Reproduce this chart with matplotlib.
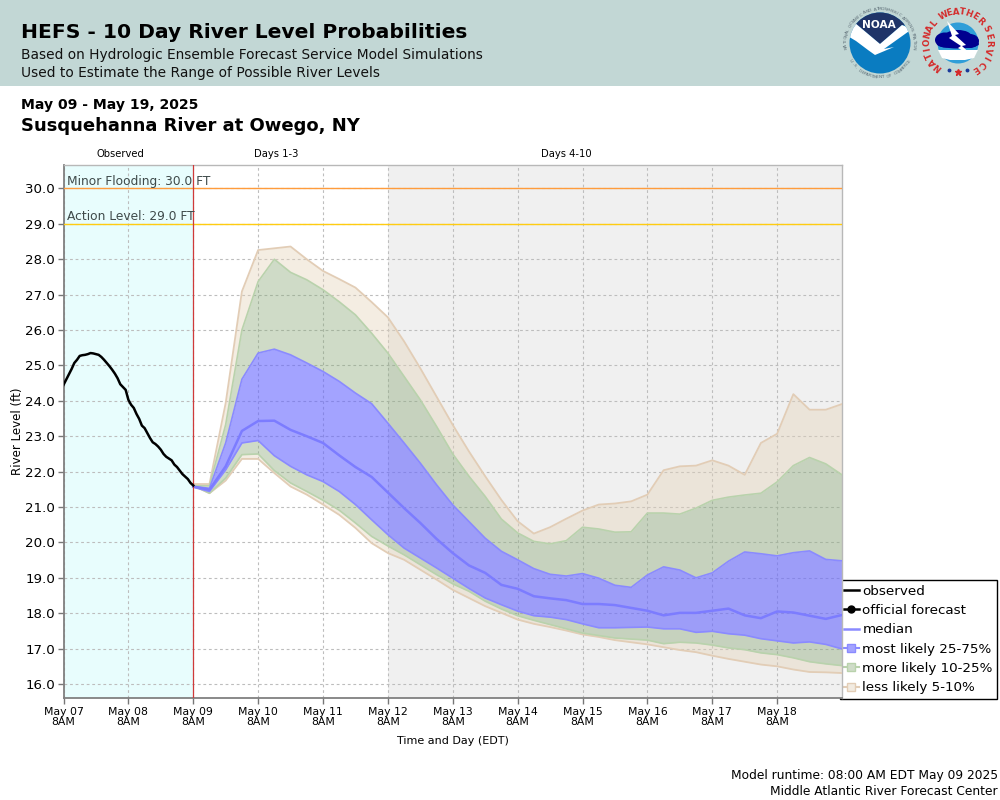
# HEFS 10 day river level probabilities, Susquehanna River at Owego, NY

import matplotlib
matplotlib.use('AGG') # plot without needing X-display setting
import matplotlib.pyplot as plt
from matplotlib.lines import Line2D
from matplotlib.patches import Circle, Ellipse, Polygon, Rectangle
import numpy as np
import pandas as pd

#%% data

obs_level = [24.45, 24.60, 24.75, 24.90, 25.07, 25.16, 25.27, 25.29, 25.30, 25.32, 25.35, 25.34, 25.32,
             25.30, 25.24, 25.16, 25.07, 24.98, 24.88, 24.77, 24.64, 24.47, 24.39, 24.31, 24.03, 23.89,
             23.80, 23.63, 23.49, 23.30, 23.23, 23.09, 22.95, 22.83, 22.78, 22.71, 22.62, 22.50, 22.42,
             22.37, 22.32, 22.20, 22.13, 22.03, 21.93, 21.86, 21.79, 21.68, 21.61]

p95 = [21.65, 21.65, 23.94, 27.09, 28.26, 28.31, 28.36, 28.00, 27.67, 27.44, 27.20, 26.79, 26.36, 25.68,
       24.92, 24.12, 23.32, 22.57, 21.87, 21.20, 20.60, 20.25, 20.43, 20.67, 20.90, 21.07, 21.10, 21.16,
       21.35, 22.04, 22.15, 22.17, 22.32, 22.17, 21.91, 22.81, 23.07, 24.19, 23.75, 23.75, 23.91]
p90 = [21.60, 21.60, 23.33, 26.00, 27.37, 28.00, 27.63, 27.42, 27.14, 26.80, 26.43, 25.91, 25.35, 24.69,
       24.03, 23.28, 22.50, 21.87, 21.30, 20.66, 20.27, 20.03, 19.96, 20.05, 20.43, 20.38, 20.29, 20.30,
       20.83, 20.83, 20.80, 20.97, 21.19, 21.28, 21.34, 21.39, 21.71, 22.17, 22.40, 22.22, 21.91]
p75 = [21.58, 21.53, 22.81, 24.61, 25.35, 25.46, 25.30, 25.07, 24.83, 24.55, 24.22, 23.92, 23.37, 22.81,
       22.24, 21.63, 21.06, 20.59, 20.12, 19.75, 19.51, 19.26, 19.10, 19.05, 19.12, 18.99, 18.79, 18.73,
       19.08, 19.31, 19.22, 19.00, 19.14, 19.47, 19.73, 19.68, 19.62, 19.71, 19.76, 19.52, 19.48]
p50 = [21.58, 21.49, 22.15, 23.15, 23.43, 23.44, 23.18, 23.00, 22.81, 22.46, 22.13, 21.85, 21.41, 20.97,
       20.55, 20.10, 19.70, 19.35, 19.14, 18.80, 18.69, 18.48, 18.42, 18.37, 18.26, 18.26, 18.23, 18.15,
       18.07, 17.94, 18.01, 18.01, 18.07, 18.13, 17.94, 17.86, 18.05, 18.02, 17.93, 17.84, 17.95]
p25 = [21.56, 21.44, 22.05, 22.81, 22.88, 22.45, 22.15, 21.91, 21.72, 21.44, 21.07, 20.64, 20.22, 19.84,
       19.56, 19.28, 18.99, 18.70, 18.43, 18.24, 18.06, 17.93, 17.89, 17.82, 17.70, 17.59, 17.59, 17.60,
       17.61, 17.56, 17.56, 17.46, 17.49, 17.42, 17.38, 17.28, 17.22, 17.16, 17.19, 17.12, 16.99]
p10 = [21.61, 21.39, 21.82, 22.48, 22.50, 22.03, 21.68, 21.44, 21.19, 20.91, 20.55, 20.17, 19.90, 19.65,
       19.37, 19.09, 18.83, 18.62, 18.34, 18.12, 17.93, 17.80, 17.68, 17.56, 17.44, 17.37, 17.30, 17.27,
       17.24, 17.14, 17.18, 17.16, 17.10, 17.02, 16.97, 16.88, 16.83, 16.74, 16.63, 16.57, 16.52]
p05 = [21.60, 21.39, 21.75, 22.36, 22.36, 21.96, 21.58, 21.35, 21.07, 20.78, 20.41, 19.98, 19.70, 19.51,
       19.23, 18.95, 18.66, 18.43, 18.20, 18.01, 17.82, 17.70, 17.61, 17.51, 17.40, 17.33, 17.24, 17.18,
       17.12, 17.04, 16.96, 16.90, 16.80, 16.71, 16.63, 16.55, 16.50, 16.41, 16.34, 16.33, 16.31]

minor_flood = 30.0
action_level = 29.0

tick_days = ['May 07', 'May 08', 'May 09', 'May 10', 'May 11', 'May 12',
             'May 13', 'May 14', 'May 15', 'May 16', 'May 17', 'May 18']
level_ticks = [16, 17, 18, 19, 20, 21, 22, 23, 24, 25, 26, 27, 28, 29, 30]

#%% time axes
t_start = pd.Timestamp('2025-05-07 08:00')
t_fcst = pd.Timestamp('2025-05-09 08:00')
t_day4 = pd.Timestamp('2025-05-12 08:00')
t_end = pd.Timestamp('2025-05-19 08:00')

time_obs = pd.date_range(t_start, t_fcst, freq='1h')
time_fc = pd.date_range(t_fcst, t_end, freq='6h')
time_tick = pd.date_range(t_start, periods=len(tick_days), freq='1D')

c_tan = '#e4d2b8'
c_green = '#87a775'
c_blue = '#6666ff'
e_tan = '#e2cdb6'
e_green = '#b9d2ac'
e_blue = '#8a8aff'

#%% figure
plt.rcParams['font.family'] = 'DejaVu Sans'
fig = plt.figure(figsize=(10,8), dpi=100)

ax = fig.add_axes([63.5/1000, 1-697.5/800, 778.5/1000, 533/800])
ax.set_xlim(t_start, t_end)
ax.set_ylim(16-13.5/35.43, 30+24/35.43)

ax.axvspan(t_start, t_fcst, color='#e8fdfd', lw=0, zorder=0)
ax.axvspan(t_day4, t_end, color='#f0f0f0', lw=0, zorder=0)
ax.grid(True, color='#bdbdbd', linestyle=(0,(2.5,2.5)), linewidth=0.8, zorder=1)
ax.set_axisbelow(True)

ax.fill_between(time_fc, p05, p10, color=c_tan, alpha=0.4, lw=0, zorder=2)
ax.fill_between(time_fc, p90, p95, color=c_tan, alpha=0.4, lw=0, zorder=2)
ax.fill_between(time_fc, p10, p25, color=c_green, alpha=0.4, lw=0, zorder=2)
ax.fill_between(time_fc, p75, p90, color=c_green, alpha=0.4, lw=0, zorder=2)
ax.fill_between(time_fc, p25, p75, color=c_blue, alpha=0.6, lw=0, zorder=2)

ax.plot(time_fc, p05, color=e_tan, lw=1.3, zorder=3)
ax.plot(time_fc, p95, color=e_tan, lw=1.3, zorder=3)
ax.plot(time_fc, p10, color=e_green, lw=1.2, zorder=3)
ax.plot(time_fc, p90, color=e_green, lw=1.2, zorder=3)
ax.plot(time_fc, p25, color=e_blue, lw=1.2, zorder=3)
ax.plot(time_fc, p75, color=e_blue, lw=1.2, zorder=3)
ax.plot(time_fc, p50, color='#7c7cff', lw=1.8, zorder=4)

ax.axhline(minor_flood, color='#ff9c3c', lw=1.0, zorder=5)
ax.axhline(action_level, color='#ffcc11', lw=1.0, zorder=5)
ax.axvline(t_fcst, color='#cf3a3a', lw=0.9, zorder=5)
ax.plot(time_obs, obs_level, color='k', lw=1.8, zorder=6)

ax.set_xticks(time_tick)
ax.set_xticklabels([d+'\n8AM' for d in tick_days], fontsize=7.8, linespacing=1.1)
ax.set_yticks(level_ticks)
ax.set_yticklabels(['%.1f' % v for v in level_ticks], fontsize=9.6)
ax.tick_params(axis='both', color='#777777', length=4, width=1, pad=2.5)
ax.tick_params(axis='y', pad=2)
ax.set_ylabel('River Level (ft)', fontsize=8.6, labelpad=1)
ax.set_xlabel('Time and Day (EDT)', fontsize=8.0, labelpad=6)

for side in ['left', 'bottom']:
    ax.spines[side].set_color('#808080')
    ax.spines[side].set_linewidth(1.3)
for side in ['top', 'right']:
    ax.spines[side].set_color('#b8b8b8')
    ax.spines[side].set_linewidth(1.0)

#%% overlay in pixel coordinates for header, labels and logos
ov = fig.add_axes([0, 0, 1, 1], zorder=-2)
ov.set_xlim(0, 1000)
ov.set_ylim(800, 0)
ov.axis('off')
ov.add_patch(Rectangle((0,0), 1000, 86, color='#c2d7d5', lw=0))

top = fig.add_axes([0, 0, 1, 1], zorder=10)
top.set_xlim(0, 1000)
top.set_ylim(800, 0)
top.axis('off')

top.text(21, 33, 'HEFS - 10 Day River Level Probabilities', fontsize=14.55, fontweight='bold', va='center')
top.text(21, 54.5, 'Based on Hydrologic Ensemble Forecast Service Model Simulations', fontsize=9.9, va='center', color='#111111')
top.text(21, 73, 'Used to Estimate the Range of Possible River Levels', fontsize=9.9, va='center', color='#111111')
top.text(21, 105, 'May 09 - May 19, 2025', fontsize=10.05, fontweight='bold', va='center')
top.text(21, 126, 'Susquehanna River at Owego, NY', fontsize=13.0, fontweight='bold', va='center')

top.text(120, 154, 'Observed', fontsize=7.2, ha='center', va='center')
top.text(276.5, 154, 'Days 1-3', fontsize=7.2, ha='center', va='center')
top.text(566.5, 154, 'Days 4-10', fontsize=7.2, ha='center', va='center')

top.text(67, 181.5, 'Minor Flooding: 30.0 FT', fontsize=8.85, color='#3f4a4a', va='center')
top.text(67, 216.5, 'Action Level: 29.0 FT', fontsize=8.85, color='#3f4a4a', va='center')

top.text(998, 775.5, 'Model runtime: 08:00 AM EDT May 09 2025', fontsize=8.85, ha='right', va='center')
top.text(998, 791.5, 'Middle Atlantic River Forecast Center', fontsize=8.85, ha='right', va='center')


def ring_text(txt, cx, cy, r, a0, a1, color, size, weight='normal', flip=False):
    # letters along an arc, angles in degrees clockwise from straight up
    ang = np.linspace(a0, a1, len(txt))
    for ch, a in zip(txt, ang):
        rad = np.deg2rad(a)
        rot = 180-a if flip else -a
        top.text(cx+r*np.sin(rad), cy-r*np.cos(rad), ch, fontsize=size, color=color, fontweight=weight,
                 rotation=rot, ha='center', va='center', rotation_mode='anchor')


# NOAA logo
noaa = Circle((880,43), 30.5, color='#0a7cc1', lw=0)
top.add_patch(noaa)
navy = Polygon([(845,5),(915,5),(915,27),(902,25),(880,44),(855,23),(845,22)], color='#1f3468', lw=0)
top.add_patch(navy)
navy.set_clip_path(noaa)
gull = Polygon([(846,21),(855,23),(880,44),(902,25),(912,29),(884,49),(894,47),(875,55),(868,50),(856,41),(846,35)],
               color='white', lw=0)
top.add_patch(gull)
gull.set_clip_path(noaa)
top.text(879, 25.5, 'NOAA', fontsize=7.6, color='white', ha='center', va='center', fontweight='bold')
ring_text('NATIONAL OCEANIC AND ATMOSPHERIC ADMINISTRATION', 880, 43, 34, -98, 98, '#5f6f78', 3.2)
ring_text('U.S. DEPARTMENT OF COMMERCE', 880, 43, 34.5, -122, -238, '#5f6f78', 3.2, flip=True)

# NWS logo
top.add_patch(Circle((958,43), 20.5, color='#2f9ed8', lw=0))
top.add_patch(Polygon([(938,50),(978,50),(974,58),(965,60),(950,60),(942,58)], color='white', lw=0))
for cx, cy, w, h in [(945,40,20,15), (958,37,28,14), (970,41,18,14), (958,44,42,9)]:
    top.add_patch(Ellipse((cx,cy), w, h, color='#00008f', lw=0))
top.add_patch(Polygon([(947,21),(959,34),(955,35),(966,45),(962,46),(975,58),(958,48),(961,46),(949,38),(952,36)], color='white', lw=0))
ring_text('NATIONAL', 958, 43, 31, -140, -50, '#d42a2a', 6.2, 'bold')
ring_text('WEATHER', 958, 43, 31, -28, 45, '#d42a2a', 6.2, 'bold')
ring_text('SERVICE', 958, 43, 31, 63, 146, '#d42a2a', 6.2, 'bold')
top.plot([949,967], [70,70], ls='none', marker='o', ms=1.8, color='#1a3a9a')
top.plot([958], [72], ls='none', marker='*', ms=5, color='#d42a2a')

#%% legend, sits below the axes so the plot overlaps its left edge
handles = [Line2D([], [], color='k', lw=1.8),
           Line2D([], [], color='k', lw=1.8, marker='o', ms=5),
           Line2D([], [], color='#8a8aff', lw=1.8),
           Line2D([], [], color=e_blue, lw=1.5, marker='s', ms=6, mfc='#a3a3ff', mec=e_blue),
           Line2D([], [], color=e_green, lw=1.5, marker='s', ms=6, mfc='#cfdcc8', mec=e_green),
           Line2D([], [], color=e_tan, lw=1.5, marker='s', ms=6, mfc='#f2ebe1', mec=e_tan)]
labels = ['observed', 'official forecast', 'median', 'most likely 25-75%', 'more likely 10-25%', 'less likely 5-10%']
leg = fig.legend(handles, labels, loc='lower left', bbox_to_anchor=(839.5/1000, 1-699/800), fontsize=9.7,
                 frameon=True, fancybox=False, edgecolor='k', framealpha=1, borderpad=0.34, borderaxespad=0,
                 handlelength=1.1, handletextpad=0.25, labelspacing=0.47)
leg.get_frame().set_linewidth(1.0)
leg.set_zorder(-1)

fig.savefig('out.png', dpi=100)
